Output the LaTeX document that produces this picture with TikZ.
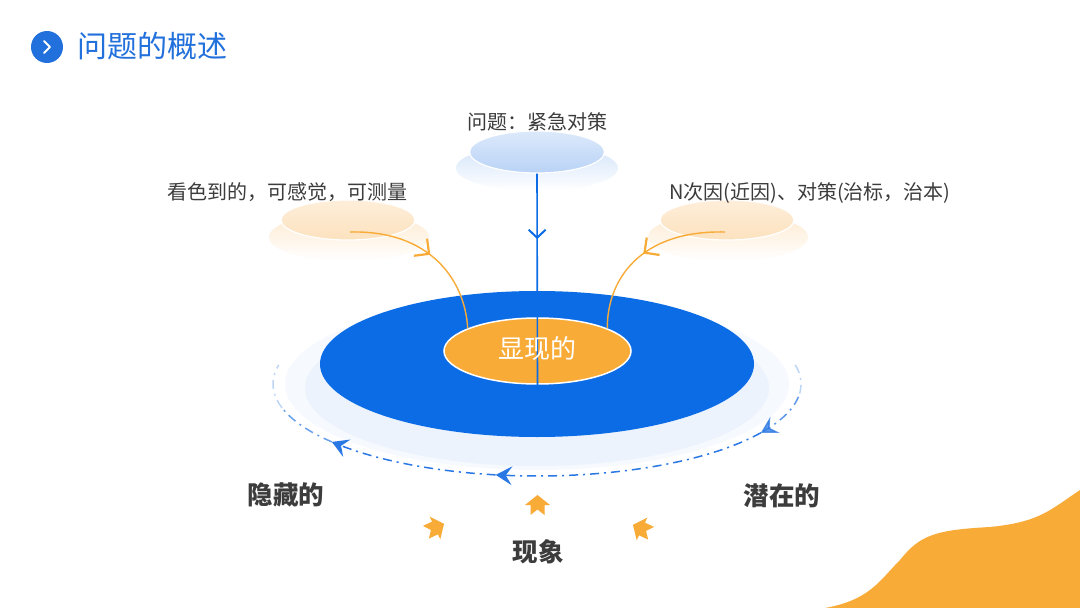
\documentclass[tikz,border=0pt]{standalone}
\usepackage{fontspec}
\setmainfont{Noto Sans CJK SC}
\usetikzlibrary{shapes.geometric,arrows.meta,decorations.markings,calc}
\definecolor{mblue}{HTML}{0B6CE6}
\definecolor{tblue}{HTML}{2170DC}
\definecolor{arcblue}{HTML}{2A78E4}
\definecolor{morange}{HTML}{F9AB37}
\definecolor{txt}{HTML}{3C3C3C}
\definecolor{haloA}{HTML}{F6F9FE}
\definecolor{haloB}{HTML}{ECF3FD}
\definecolor{tdiscT}{HTML}{DCE9FB}
\definecolor{tdiscB}{HTML}{B9D3F6}
\definecolor{tshad}{HTML}{D3E4FA}
\definecolor{odiscT}{HTML}{FEEEDA}
\definecolor{odiscB}{HTML}{FCE2BE}
\definecolor{oshad}{HTML}{FDEAD0}
\tikzset{
  lbl/.style={text=txt, font=\fontsize{20}{20}\selectfont, inner sep=0pt},
  biglbl/.style={text=txt, font=\bfseries\fontsize{25.5}{25.5}\selectfont, inner sep=0pt},
  disc/.style={ellipse, inner sep=0pt, draw=white, line width=1.2pt},
  shadow/.style={ellipse, inner sep=0pt, draw=none},
  arcline/.style={arcblue, line width=1.5pt, dash pattern=on 9pt off 5pt on 2pt off 5pt},
  arctip/.style={-{Stealth[length=13pt,width=15pt,inset=5pt,scale=1.25]}},
  midbarb/.style={postaction={decorate}, decoration={markings, mark=at position #1 with {\arrow{Straight Barb[length=8pt,width=17pt,line width=2pt]}}}},
  obarb/.style={postaction={decorate}, decoration={markings, mark=at position #1 with {\arrow{Straight Barb[length=9pt,width=18pt,line width=2.2pt,scale=1.2]}}}},
  uparrow/.pic={\fill[morange] (0,-10) -- (12.5,0) -- (7,0) -- (7,10) -- (0,4.5) -- (-7,10) -- (-7,0) -- (-12.5,0) -- cycle;}
}
\begin{document}
\begin{tikzpicture}[x=1pt,y=-1pt]
\fill[white] (0,0) rectangle (1080,608);
\useasboundingbox (0,0) rectangle (1080,608);

% title
\node[circle, fill=tblue, minimum size=32pt, inner sep=0pt] (ticon) at (47,47) {};
\draw[white, line width=1.8pt, line cap=round, line join=round] ($(ticon)+(-3,-6)$) -- ($(ticon)+(3,0)$) -- ($(ticon)+(-3,6)$);
\node[anchor=west, text=tblue, font=\fontsize{30}{30}\selectfont, inner sep=0pt] (title) at (77,46) {问题的概述};

% orange blob bottom right
\fill[morange] (825,608) .. controls (870,600) and (880,580) .. (900,560) .. controls (920,535) and (935,530) .. (990,527) .. controls (1040,522) and (1050,510) .. (1080,490) -- (1080,608) -- cycle;

% halo
\fill[haloA] (537,384) ellipse [x radius=252, y radius=86];
\fill[haloB] (537,388) ellipse [x radius=232, y radius=78];

% dash-dot arc
\draw[arcline, opacity=0.3] plot[domain=-12:8, samples=20, smooth] ({537+264*cos(\x)},{384+92*sin(\x)});
\draw[arcline, arctip, opacity=0.75] plot[domain=8:32, samples=20, smooth] ({537+264*cos(\x)},{384+92*sin(\x)});
\draw[arcline, arctip] plot[domain=32:99, samples=40, smooth] ({537+264*cos(\x)},{384+92*sin(\x)});
\draw[arcline, arctip] plot[domain=99:141, samples=30, smooth] ({537+264*cos(\x)},{384+92*sin(\x)});
\draw[arcline, opacity=0.7] plot[domain=141:165, samples=20, smooth] ({537+264*cos(\x)},{384+92*sin(\x)});
\draw[arcline, opacity=0.3] plot[domain=165:192, samples=20, smooth] ({537+264*cos(\x)},{384+92*sin(\x)});

% main discs
\node[ellipse, fill=mblue, inner sep=0pt, minimum width=434pt, minimum height=146pt] (disk) at (537,364) {};
\node[ellipse, fill=morange, draw=white, line width=1.5pt, inner sep=0pt, minimum width=187pt, minimum height=66pt] (inner) at (537.5,351) {};

% top disc
\node[shadow, top color=tshad, bottom color=white, minimum width=162pt, minimum height=46pt] (topshadow) at (537,168) {};
\node[disc, top color=tdiscT, bottom color=tdiscB, minimum width=135pt, minimum height=42pt] (topdisc) at (537,152) {};

% side discs
\node[shadow, top color=oshad, bottom color=white, minimum width=160pt, minimum height=48pt] (lshadow) at (349,237) {};
\node[disc, top color=odiscT, bottom color=odiscB, minimum width=134pt, minimum height=40pt] (ldisc) at (348,220) {};
\node[shadow, top color=oshad, bottom color=white, minimum width=160pt, minimum height=48pt] (rshadow) at (728,237) {};
\node[disc, top color=odiscT, bottom color=odiscB, minimum width=134pt, minimum height=40pt] (rdisc) at (727,220) {};

% connectors
\draw[mblue, line width=1.6pt, midbarb=0.31] (topdisc.south) -- (inner.south);
\coordinate (lstart) at (350,232);
\coordinate (rstart) at (725,232);
\draw[morange, line width=1.4pt, obarb=0.5] (lstart) .. controls (430,230) and (465,280) .. (inner.162);
\draw[morange, line width=1.4pt, obarb=0.5] (rstart) .. controls (640,230) and (607,280) .. (inner.18);

\node[text=white, font=\fontsize{26}{26}\selectfont, inner sep=0pt] (innerlabel) at (537.5,349) {显现的};

% labels
\node[lbl] (toplabel) at (537,122) {问题：紧急对策};
\node[lbl] (leftlabel) at (287,192) {看色到的，可感觉，可测量};
\node[lbl] (rightlabel) at (810,193) {N次因(近因)、对策(治标，治本)};
\node[biglbl] (hidden) at (286,495) {隐藏的};
\node[biglbl] (latent) at (782,496) {潜在的};
\node[biglbl] (phen) at (538,552) {现象};

% small arrows
\pic at (537.5,505) {uparrow};
\pic[rotate=-65] at (435,528) {uparrow};
\pic[rotate=65] at (642,529) {uparrow};
\end{tikzpicture}
\end{document}
